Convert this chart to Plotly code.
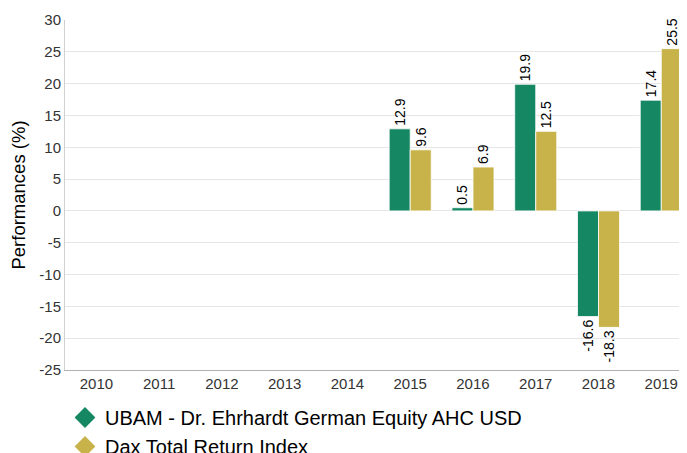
import plotly.graph_objects as go

years = ["2010", "2011", "2012", "2013", "2014", "2015", "2016", "2017", "2018", "2019"]
fund_name = "UBAM - Dr. Ehrhardt German Equity AHC USD"
index_name = "Dax Total Return Index"
fund_values = [None, None, None, None, None, 12.9, 0.5, 19.9, -16.6, 17.4]
index_values = [None, None, None, None, None, 9.6, 6.9, 12.5, -18.3, 25.5]
y_ticks = [30, 25, 20, 15, 10, 5, 0, -5, -10, -15, -20, -25]

GREEN = "#168763"
GOLD = "#C8B34A"

def labels(vals):
    return ["" if v is None else f"{v}" for v in vals]

fig = go.Figure()
for name, vals, col in [(fund_name, fund_values, GREEN), (index_name, index_values, GOLD)]:
    fig.add_trace(go.Bar(
        x=years, y=vals, name=name, marker=dict(color=col, line=dict(color="rgba(255,255,255,0.8)", width=1)),
        text=labels(vals), textposition="outside", textangle=-90, constraintext="none",
        textfont=dict(size=14, color="#000000"), cliponaxis=False, showlegend=False,
    ))
for name, col in [(fund_name, GREEN), (index_name, GOLD)]:
    fig.add_trace(go.Scatter(
        x=[None], y=[None], mode="markers", name=name,
        marker=dict(symbol="diamond", size=16, color=col),
    ))

# the page body adds an 8px offset at top/left, so the figure is sized to fit the window
fig.update_layout(
    width=679, height=445,
    margin=dict(l=57, r=0, t=12, b=83, autoexpand=False),
    paper_bgcolor="white", plot_bgcolor="white",
    font=dict(family="Liberation Sans, Arial, sans-serif", color="#333333"),
    barmode="group", bargap=0.33, bargroupgap=0.0,
    showlegend=True,
    legend=dict(orientation="v", x=0.0, y=-0.08, xanchor="left", yanchor="top",
                font=dict(size=20, color="#000000"), tracegroupgap=0,
                itemwidth=30, bgcolor="rgba(0,0,0,0)"),
    xaxis=dict(type="category", range=[-0.5, 9.41], showgrid=False,
               showline=True, linecolor="#b0b0b0", linewidth=1, automargin=False,
               ticks="", tickfont=dict(size=15, color="#333333"), fixedrange=True),
    yaxis=dict(range=[-25, 30], tickvals=y_ticks, ticktext=[str(v) for v in y_ticks],
               showgrid=True, gridcolor="#e6e6e6", gridwidth=1, zeroline=False,
               showline=True, linecolor="#d0d0d0", linewidth=1, automargin=False,
               tickfont=dict(size=15, color="#333333"),
               title=dict(text="Performances (%)", font=dict(size=18.5, color="#000000"), standoff=10)),
)

fig.write_html("out.html")
